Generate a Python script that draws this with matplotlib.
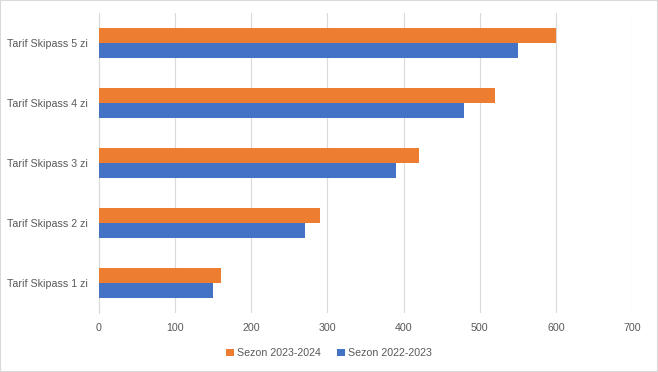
import numpy as np
import matplotlib
matplotlib.use("Agg")
import matplotlib.pyplot as plt
from matplotlib.patches import Rectangle

categories = ["Tarif Skipass 1 zi", "Tarif Skipass 2 zi", "Tarif Skipass 3 zi",
              "Tarif Skipass 4 zi", "Tarif Skipass 5 zi"]
sezon_2022_2023 = [150, 270, 390, 480, 550]
sezon_2023_2024 = [160, 290, 420, 520, 600]

plt.rcParams["font.family"] = ["Liberation Sans", "DejaVu Sans"]
txt = "#595959"

fig = plt.figure(figsize=(6.58, 3.72), dpi=100)
ax = fig.add_axes([99 / 658, 1 - 313 / 372, 533 / 658, 300 / 372])

y = np.arange(len(categories))
h = 0.25
ax.barh(y - h / 2, sezon_2022_2023, height=h, color="#4472C4", label="Sezon 2022-2023", zorder=3)
ax.barh(y + h / 2, sezon_2023_2024, height=h, color="#ED7D31", label="Sezon 2023-2024", zorder=3)

ax.set_xlim(0, 700)
ax.set_ylim(-0.5, len(categories) - 0.5)
ax.set_xticks(range(0, 701, 100))
ax.set_yticks(y)
ax.set_yticklabels(categories)
ax.tick_params(axis="both", length=0, labelsize=7.7, labelcolor=txt)
ax.tick_params(axis="x", pad=7)
ax.tick_params(axis="y", pad=8)
ax.xaxis.grid(True, color="#D9D9D9", linewidth=0.8, zorder=0)
for s in ["top", "right", "bottom"]:
    ax.spines[s].set_visible(False)
ax.spines["left"].set_color("#D9D9D9")

handles, labels = ax.get_legend_handles_labels()
fig.legend(handles[::-1], labels[::-1], loc="center", bbox_to_anchor=(0.5, 1 - 353 / 372),
           ncol=2, frameon=False, fontsize=7.7, labelcolor=txt,
           handlelength=0.7, handleheight=0.7, handletextpad=0.3, columnspacing=1.5)

fig.patches.append(Rectangle((0, 0), 1, 1, transform=fig.transFigure, fill=False,
                             edgecolor="#D9D9D9", linewidth=1.5))

fig.savefig("out.png", dpi=100)
